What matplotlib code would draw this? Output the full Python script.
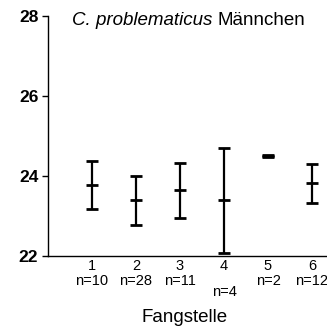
import numpy as np
import matplotlib
matplotlib.use("Agg")
import matplotlib.pyplot as plt
from matplotlib.transforms import offset_copy

plt.rcParams['font.family'] = ['Liberation Sans', 'DejaVu Sans']

# Fangstelle 1..6, Mittelwert und Fehlerbalken (oben / unten)
sites = [1, 2, 3, 4, 5, 6]
n_labels = ['n=10', 'n=28', 'n=11', 'n=4', 'n=2', 'n=12']
means = [23.78, 23.40, 23.65, 23.39, 24.50, 23.83]
upper = [24.36, 24.00, 24.33, 24.69, 24.53, 24.30]
lower = [23.18, 22.78, 22.96, 22.08, 24.47, 23.32]

means = np.array(means)
yerr = [means - np.array(lower), np.array(upper) - means]

fig = plt.figure(figsize=(3.27, 3.33), dpi=100)
ax = fig.add_axes([48/327, 77/333, 279/327, 240.3/333])

ax.errorbar(sites, means, yerr=yerr, fmt='_', color='black', ecolor='black',
            elinewidth=1.6, capsize=4.6, capthick=1.6, markersize=9, mew=2)

ax.set_xlim(0, 279/44)
ax.set_ylim(22, 28)
ax.set_yticks([22, 24, 26, 28])
ax.set_xticks(sites)
ax.set_xticklabels([str(s) for s in sites], fontsize=10.5)
ax.tick_params(axis='x', length=0, pad=2.5)
ax.tick_params(axis='y', direction='out', length=4, width=1, pad=3,
               labelsize=12.5)
for lab in ax.get_yticklabels():
    lab.set_fontweight('bold')

ax.spines['top'].set_visible(False)
ax.spines['right'].set_visible(False)
ax.spines['left'].set_linewidth(1)
ax.spines['bottom'].set_linewidth(1)

# n-Angaben unter den Nummern
for s, nl in zip(sites, n_labels):
    off = -26 if nl == 'n=4' else -18
    ax.annotate(nl, xy=(s, 22), xycoords='data', xytext=(0, off),
                textcoords='offset points', ha='center', va='center',
                fontsize=10.5, annotation_clip=False)

# Titel: kursiver Artname, danach normal
t1 = ax.text(0.086, 0.98, 'C. problematicus', transform=ax.transAxes,
             fontsize=13.5, style='italic', ha='left', va='center')
fig.canvas.draw()
w = t1.get_window_extent().width
tr = offset_copy(ax.transAxes, fig=fig, x=w * 72 / fig.dpi + 4, y=0,
                 units='points')
ax.text(0.086, 0.98, 'Männchen', transform=tr, fontsize=13.5,
        ha='left', va='center')

fig.text(185/327, 1 - 318/333, 'Fangstelle', fontsize=13.5, ha='center',
         va='center')

fig.savefig('out.png', dpi=100)
